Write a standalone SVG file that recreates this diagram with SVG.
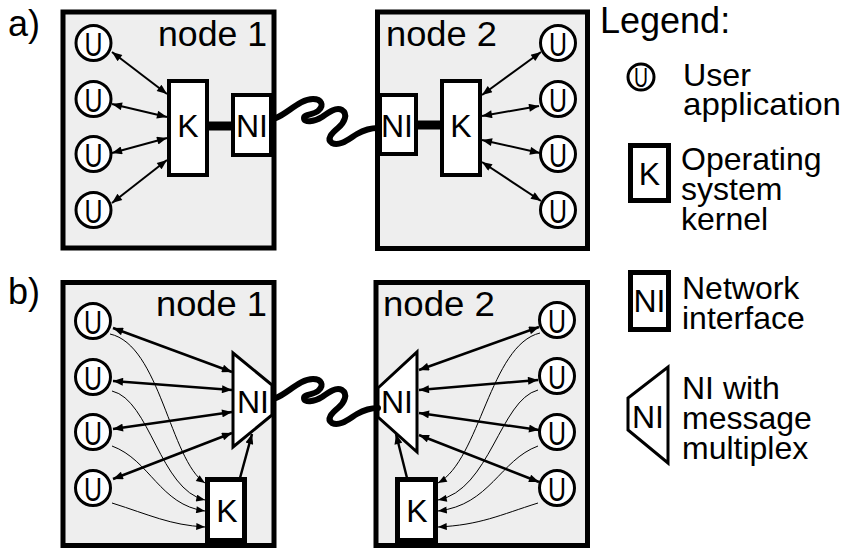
<svg xmlns="http://www.w3.org/2000/svg" width="847" height="550" viewBox="0 0 847 550">
<defs>
<style>
.t{font-family:"Liberation Sans",Arial,Helvetica,sans-serif;fill:#000}
.box{fill:#eeeeee;stroke:#000;stroke-width:5}
.k{fill:#fff;stroke:#000;stroke-width:4}
.kb{fill:#fff;stroke:#000;stroke-width:5}
.tr{fill:#fff;stroke:#000;stroke-width:3;stroke-linejoin:miter}
.u{fill:#fff;stroke:#000;stroke-width:3}
.bar{stroke:#000;stroke-width:9}
.wire{fill:none;stroke:#000;stroke-width:6;stroke-linecap:round;stroke-linejoin:round}
.a2{stroke:#000;stroke-width:2;fill:none;marker-start:url(#ah);marker-end:url(#ah)}
.a3{stroke:#000;stroke-width:2.5;fill:none;marker-start:url(#ah);marker-end:url(#ah)}
.a1{stroke:#000;stroke-width:2.5;fill:none;marker-end:url(#ah)}
.th{stroke:#000;stroke-width:1;fill:none;marker-end:url(#ahs)}
.lbl{font-size:35px}
.ut{font-size:34px;text-anchor:middle}
.kt{font-size:32px;text-anchor:middle}
.lg{font-size:32px}
</style>
<marker id="ah" viewBox="0 0 10 8" refX="10" refY="4" markerWidth="12" markerHeight="8" markerUnits="userSpaceOnUse" orient="auto-start-reverse"><path d="M0,0L10,4L0,8z" fill="#000"/></marker>
<marker id="ahs" viewBox="0 0 10 8" refX="10" refY="4" markerWidth="10" markerHeight="7" markerUnits="userSpaceOnUse" orient="auto"><path d="M0,0L10,4L0,8z" fill="#000"/></marker>
<path id="wirepath" d="M276,118 C288,113 300,99 313,99 C321,99 325,105 318,111 C313,115 304,114 304,118 C304,123 314,122 322,117 C329,112 336,107 342,110 C348,114 345,122 338,128 C332,133 326,139 332,143 C340,147 350,138 357,134 C364,130 370,128 378,128"/>
</defs>

<text class="t" x="8" y="36" font-size="36">a)</text>
<text class="t" x="8" y="304" font-size="36">b)</text>

<!-- a) node 1 -->
<g id="a-node1">
<rect class="box" x="63" y="12" width="211" height="236"/>
<text class="t lbl" x="158" y="46" textLength="109" lengthAdjust="spacingAndGlyphs">node 1</text>
</g>
<g id="a-node1-u1"><circle class="u" cx="93.5" cy="43" r="17.5"/><text class="t ut" x="93.5" y="55.5" textLength="18" lengthAdjust="spacingAndGlyphs">U</text></g>
<g id="a-node1-u2"><circle class="u" cx="93.5" cy="99" r="17.5"/><text class="t ut" x="93.5" y="111.5" textLength="18" lengthAdjust="spacingAndGlyphs">U</text></g>
<g id="a-node1-u3"><circle class="u" cx="93.5" cy="154" r="17.5"/><text class="t ut" x="93.5" y="166.5" textLength="18" lengthAdjust="spacingAndGlyphs">U</text></g>
<g id="a-node1-u4"><circle class="u" cx="93.5" cy="210" r="17.5"/><text class="t ut" x="93.5" y="222.5" textLength="18" lengthAdjust="spacingAndGlyphs">U</text></g>
<g id="a-node1-k"><rect class="k" x="169" y="81" width="38" height="94"/><text class="t kt" x="188" y="137">K</text></g>
<g id="a-node1-ni"><rect class="k" x="233" y="95" width="38" height="60"/><text class="t kt" x="252" y="137">NI</text></g>

<!-- a) node 2 -->
<g id="a-node2">
<rect class="box" x="377.5" y="12" width="210" height="236.5"/>
<text class="t lbl" x="386" y="46" textLength="111" lengthAdjust="spacingAndGlyphs">node 2</text>
</g>
<g id="a-node2-u1"><circle class="u" cx="558" cy="43" r="17.5"/><text class="t ut" x="558" y="55.5" textLength="18" lengthAdjust="spacingAndGlyphs">U</text></g>
<g id="a-node2-u2"><circle class="u" cx="558" cy="99" r="17.5"/><text class="t ut" x="558" y="111.5" textLength="18" lengthAdjust="spacingAndGlyphs">U</text></g>
<g id="a-node2-u3"><circle class="u" cx="558" cy="154" r="17.5"/><text class="t ut" x="558" y="166.5" textLength="18" lengthAdjust="spacingAndGlyphs">U</text></g>
<g id="a-node2-u4"><circle class="u" cx="558" cy="210" r="17.5"/><text class="t ut" x="558" y="222.5" textLength="18" lengthAdjust="spacingAndGlyphs">U</text></g>
<g id="a-node2-ni"><rect class="k" x="380" y="95" width="36" height="59"/><text class="t kt" x="397" y="137">NI</text></g>
<g id="a-node2-k"><rect class="k" x="442" y="81" width="38" height="94"/><text class="t kt" x="461" y="137">K</text></g>

<!-- b) node 1 -->
<g id="b-node1">
<rect class="box" x="63" y="282.5" width="211" height="263"/>
<text class="t lbl" x="156" y="316" textLength="111" lengthAdjust="spacingAndGlyphs">node 1</text>
</g>
<g id="b-node1-u1"><circle class="u" cx="93" cy="321" r="17.5"/><text class="t ut" x="93" y="333.5" textLength="18" lengthAdjust="spacingAndGlyphs">U</text></g>
<g id="b-node1-u2"><circle class="u" cx="93" cy="377" r="17.5"/><text class="t ut" x="93" y="389.5" textLength="18" lengthAdjust="spacingAndGlyphs">U</text></g>
<g id="b-node1-u3"><circle class="u" cx="93" cy="432" r="17.5"/><text class="t ut" x="93" y="444.5" textLength="18" lengthAdjust="spacingAndGlyphs">U</text></g>
<g id="b-node1-u4"><circle class="u" cx="93" cy="488" r="17.5"/><text class="t ut" x="93" y="500.5" textLength="18" lengthAdjust="spacingAndGlyphs">U</text></g>
<g id="b-node1-ni"><polygon class="tr" points="233,353 272,385 272,415 233,447"/><text class="t kt" x="253" y="413">NI</text></g>
<g id="b-node1-k"><rect class="kb" x="207.5" y="479.5" width="37" height="61"/><text class="t kt" x="227" y="522">K</text></g>

<!-- b) node 2 -->
<g id="b-node2">
<rect class="box" x="376" y="282.5" width="211.5" height="263"/>
<text class="t lbl" x="383" y="316" textLength="112" lengthAdjust="spacingAndGlyphs">node 2</text>
</g>
<g id="b-node2-u1"><circle class="u" cx="557" cy="320" r="17.5"/><text class="t ut" x="557" y="332.5" textLength="18" lengthAdjust="spacingAndGlyphs">U</text></g>
<g id="b-node2-u2"><circle class="u" cx="557" cy="376" r="17.5"/><text class="t ut" x="557" y="388.5" textLength="18" lengthAdjust="spacingAndGlyphs">U</text></g>
<g id="b-node2-u3"><circle class="u" cx="557" cy="432" r="17.5"/><text class="t ut" x="557" y="444.5" textLength="18" lengthAdjust="spacingAndGlyphs">U</text></g>
<g id="b-node2-u4"><circle class="u" cx="557" cy="488" r="17.5"/><text class="t ut" x="557" y="500.5" textLength="18" lengthAdjust="spacingAndGlyphs">U</text></g>
<g id="b-node2-ni"><polygon class="tr" points="378,388 417,352 417,452 378,417"/><text class="t kt" x="397" y="413">NI</text></g>
<g id="b-node2-k"><rect class="kb" x="397.5" y="479.5" width="38" height="61"/><text class="t kt" x="417" y="522">K</text></g>

<!-- connectors -->
<g id="connectors">
<line class="bar" x1="207" y1="126" x2="233" y2="126"/>
<line class="bar" x1="416" y1="125" x2="442" y2="125"/>
<use href="#wirepath" class="wire"/>
<use href="#wirepath" class="wire" transform="translate(0,280)"/>
<line class="a2" x1="112" y1="52" x2="167" y2="94"/>
<line class="a2" x1="112" y1="104" x2="167" y2="117"/>
<line class="a2" x1="112" y1="153" x2="167" y2="138"/>
<line class="a2" x1="112" y1="203" x2="167" y2="160"/>
<line class="a2" x1="482" y1="95" x2="541" y2="52"/>
<line class="a2" x1="482" y1="116" x2="539" y2="106"/>
<line class="a2" x1="482" y1="140" x2="540" y2="153"/>
<line class="a2" x1="482" y1="162" x2="541" y2="201"/>
<line class="a3" x1="113" y1="328" x2="232" y2="372"/>
<line class="a3" x1="113" y1="381" x2="232" y2="390"/>
<line class="a3" x1="113" y1="429" x2="232" y2="412"/>
<line class="a3" x1="113" y1="479" x2="232" y2="433"/>
<line class="a1" x1="240" y1="478" x2="252" y2="434"/>
<line class="a3" x1="419" y1="370" x2="539" y2="327"/>
<line class="a3" x1="419" y1="390" x2="538" y2="380"/>
<line class="a3" x1="419" y1="413" x2="539" y2="430"/>
<line class="a3" x1="419" y1="435" x2="539" y2="482"/>
<line class="a1" x1="407" y1="478" x2="396" y2="434"/>
<path class="th" d="M110,334 C160,345 170,460 205,483"/>
<path class="th" d="M112,391 C150,400 160,490 205,500"/>
<path class="th" d="M112,446 C150,460 160,505 205,511"/>
<path class="th" d="M112,503 C150,515 170,525 205,527"/>
<path class="th" d="M540,333 C490,345 480,460 438,483"/>
<path class="th" d="M538,390 C500,400 490,490 438,500"/>
<path class="th" d="M538,446 C500,460 490,505 438,511"/>
<path class="th" d="M538,503 C500,515 480,525 438,527"/>
</g>

<!-- legend -->
<g id="legend">
<text class="t" x="600" y="33" font-size="36">Legend:</text>
<g id="legend-u"><circle class="u" cx="641" cy="77" r="13" stroke-width="2.5"/><text class="t" x="641" y="86.5" font-size="27" text-anchor="middle" textLength="14" lengthAdjust="spacingAndGlyphs">U</text>
<text class="t lg" x="683" y="86" textLength="68" lengthAdjust="spacingAndGlyphs">User</text><text class="t lg" x="683" y="115" textLength="158" lengthAdjust="spacingAndGlyphs">application</text></g>
<g id="legend-k"><rect class="kb" x="630.5" y="145.5" width="38" height="55"/><text class="t kt" x="649.5" y="185">K</text>
<text class="t lg" x="681" y="170">Operating</text><text class="t lg" x="681" y="200">system</text><text class="t lg" x="681" y="230">kernel</text></g>
<g id="legend-ni"><rect class="kb" x="630.5" y="272.5" width="38" height="57"/><text class="t kt" x="649.5" y="312">NI</text>
<text class="t lg" x="682" y="299">Network</text><text class="t lg" x="682" y="329">interface</text></g>
<g id="legend-nimux"><polygon class="tr" points="668,367 668,463 628,430 628,398"/><text class="t" x="648" y="428" font-size="32" text-anchor="middle">NI</text>
<text class="t lg" x="682" y="399">NI with</text><text class="t lg" x="682" y="429">message</text><text class="t lg" x="682" y="459">multiplex</text></g>
</g>
</svg>
